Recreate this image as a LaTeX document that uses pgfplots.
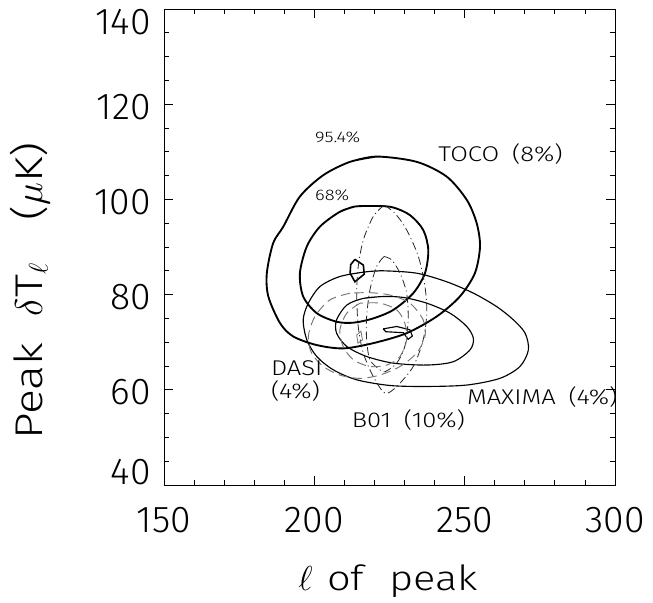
\RequirePackage{fix-cm}
\documentclass[border=0pt]{standalone}
\usepackage{fontspec}
\setmainfont{Fira Sans}[UprightFont=* Light]
\newfontfamily\lbl{Fira Sans}[UprightFont=* Light,FakeStretch=1.2,WordSpace=1.8]
\usepackage{pgfplots}
\pgfplotsset{compat=1.18}
\begin{document}
\begin{tikzpicture}
\begin{axis}[
  at={(0,0)}, anchor=south west,
  scale only axis, width=338.25pt, height=357pt,
  xmin=150, xmax=300, ymin=40, ymax=140,
  clip=false,
  axis line style={line width=0.7pt},
  xtick={150,200,250,300}, minor x tick num=4,
  ytick={40,60,80,100,120,140}, yticklabels={{},60,80,100,120,{}},
  minor y tick num=3,
  extra y ticks={43.3,137.8}, extra y tick labels={40,140},
  extra y tick style={major tick length=0pt},
  xtick pos=both, ytick pos=both,
  xticklabel pos=lower, yticklabel pos=left,
  tick align=inside,
  major tick length=7pt, minor tick length=4pt,
  tick style={line width=0.6pt, black},
  /pgf/number format/assume math mode=true,
  ticklabel style={font=\fontsize{28}{28}\selectfont},
  xticklabel style={yshift=-13pt},
  yticklabel style={xshift=-6.5pt, yshift=-2pt},
  xlabel={{\lbl\fontsize{26}{26}\selectfont $\ell$\hspace{11pt}of\hspace{19pt}peak}},
  xlabel style={at={(axis description cs:0.2971,-0.2206)}, anchor=base west, inner sep=0pt},
  ylabel={{\lbl\fontsize{29}{29}\selectfont Peak\hspace{20pt}$\delta$T$_{\ell}$\hspace{32pt}($\mu$K)}},
  ylabel style={at={(axis description cs:-0.2705,0.0945)}, anchor=base west, rotate=0, inner sep=0pt},
]
% TOCO 95.4%
\addplot[black, line width=1.4pt, smooth, tension=0.5] coordinates {
(220.7,109.0) (211.9,107.9) (203.0,105.1) (195.2,100.6) (189.7,94.3) (186.3,90.8)
(184.2,84.5) (184.7,79.6) (188.6,74.0) (193.0,71.2) (200.8,69.4) (209.6,68.7)
(219.6,69.8) (230.7,71.9) (240.7,75.4) (248.4,79.6) (253.4,84.5) (255.1,90.1)
(254.0,95.0) (250.7,99.9) (244.0,104.8) (234.0,107.9) (220.7,109.0) (211.9,107.9)};
% TOCO 68%
\addplot[black, line width=1.4pt, smooth, tension=0.5] coordinates {
(213.5,98.5) (208.5,97.4) (201.9,94.3) (197.5,90.1) (195.2,84.5) (196.3,79.6)
(200.8,76.1) (207.4,74.3) (213.0,74.1) (219.6,75.0) (226.3,76.8) (232.9,80.3)
(236.8,84.5) (237.9,89.4) (236.2,93.6) (231.8,96.7) (226.3,98.3) (221.3,98.6)
(213.5,98.5) (208.5,97.4)};
% TOCO peak
\addplot[black, line width=1.2pt] coordinates {
(213.5,87.4) (216.3,86.2) (216.6,84.3) (213.5,82.7) (211.9,84.5) (212.1,86.3) (213.5,87.4)};
% MAXIMA outer
\addplot[black, line width=0.85pt, smooth, tension=0.5] coordinates {
(222.9,85.0) (217.4,84.8) (208.5,83.8) (201.9,81.7) (198.0,78.2) (196.3,74.7)
(197.5,70.5) (200.8,67.0) (206.3,64.2) (214.1,62.1) (225.2,60.9) (237.4,60.7)
(250.7,61.0) (261.7,62.4) (268.4,64.9) (271.2,68.4) (270.1,71.9) (266.2,74.7)
(260.6,77.5) (252.9,80.3) (244.0,82.7) (234.0,84.5) (222.9,85.0) (217.4,84.8)};
% MAXIMA inner
\addplot[black, line width=0.85pt, smooth, tension=0.5] coordinates {
(222.9,79.6) (216.3,79.2) (210.8,77.8) (207.4,74.7) (207.4,71.9) (210.8,69.1)
(217.4,67.0) (226.3,65.6) (237.4,65.2) (246.2,65.9) (251.8,68.4) (252.9,70.8)
(250.7,73.3) (245.1,76.1) (237.4,78.2) (229.6,79.4) (222.9,79.6) (216.3,79.2)};
% MAXIMA peak
\addplot[black, line width=0.85pt] coordinates {
(222.9,72.8) (223.8,72.2) (229.6,72.0) (231.2,70.6) (232.6,71.3) (231.8,72.6) (227.4,73.3) (222.9,72.8)};
% B01 outer
\addplot[black!85, line width=0.6pt, smooth, tension=0.5, dash pattern=on 6pt off 2.5pt on 0.8pt off 2.5pt] coordinates {
(223.2,98.8) (219.6,96.4) (216.3,91.5) (214.6,85.9) (214.1,80.3) (214.6,73.3)
(216.3,67.7) (219.6,62.8) (223.5,59.3) (227.4,60.7) (232.9,64.9) (236.2,70.5)
(237.4,76.1) (236.8,81.7) (234.6,88.0) (230.7,93.6) (226.8,97.1) (223.2,98.8)};
% B01 inner
\addplot[black!85, line width=0.6pt, smooth, tension=0.5, dash pattern=on 6pt off 2.5pt on 0.8pt off 2.5pt] coordinates {
(223.2,88.0) (220.7,85.9) (218.5,81.0) (217.4,75.4) (217.4,70.5) (218.5,66.3)
(221.8,64.2) (223.5,63.8) (227.4,65.6) (230.1,69.1) (231.2,74.7) (230.7,80.3)
(228.5,84.5) (225.7,87.3) (223.2,88.0)};
% DASI outer
\addplot[black!55, line width=0.7pt, smooth, tension=0.5, dash pattern=on 7pt off 4pt] coordinates {
(211.9,80.3) (205.2,78.9) (200.2,75.4) (198.0,71.2) (199.1,67.7) (203.0,64.9)
(208.5,63.1) (215.2,62.4) (221.8,63.1) (228.5,64.9) (234.0,67.7) (236.8,71.2)
(236.2,74.7) (231.8,78.2) (225.2,79.9) (218.5,80.4) (211.9,80.3)};
% DASI inner
\addplot[black!55, line width=0.7pt, smooth, tension=0.5, dash pattern=on 7pt off 4pt] coordinates {
(215.2,78.2) (210.8,76.1) (208.5,72.6) (209.6,69.1) (213.0,66.3) (218.5,64.9)
(224.1,65.2) (228.5,67.0) (230.7,70.5) (230.1,74.0) (227.4,76.8) (221.8,78.2) (215.2,78.2)};
% DASI peak
\addplot[black!55, line width=0.6pt] coordinates {
(214.1,71.5) (215.5,72.3) (216.0,70.5) (214.5,69.8) (214.1,71.5)};
% labels
\node[anchor=west, inner sep=0pt, font=\lbl\fontsize{11.5}{12}\selectfont] at (axis cs:200.2,113.0) {95.4\%};
\node[anchor=west, inner sep=0pt, font=\lbl\fontsize{11.5}{12}\selectfont] at (axis cs:200.2,100.9) {68\%};
\node[anchor=base west, inner sep=0pt, font=\lbl\fontsize{16}{16}\selectfont] at (axis cs:241.2,107.9) {TOCO (8\%)};
\node[anchor=base west, inner sep=0pt, font=\lbl\fontsize{16}{16}\selectfont] at (axis cs:185.5,63.1) {DASI};
\node[anchor=base west, inner sep=0pt, font=\lbl\fontsize{16}{16}\selectfont] at (axis cs:185.5,58.2) {(4\%)};
\node[anchor=base west, inner sep=0pt, font=\lbl\fontsize{16}{16}\selectfont] at (axis cs:212.4,52.1) {B01 (10\%)};
\node[anchor=base west, inner sep=0pt, font=\lbl\fontsize{16}{16}\selectfont] at (axis cs:250.7,57.0) {MAXIMA (4\%)};
\end{axis}
\pgfresetboundingbox
\useasboundingbox (-123pt,-88.5pt) rectangle (366.75pt,363.75pt);
\end{tikzpicture}
\end{document}
